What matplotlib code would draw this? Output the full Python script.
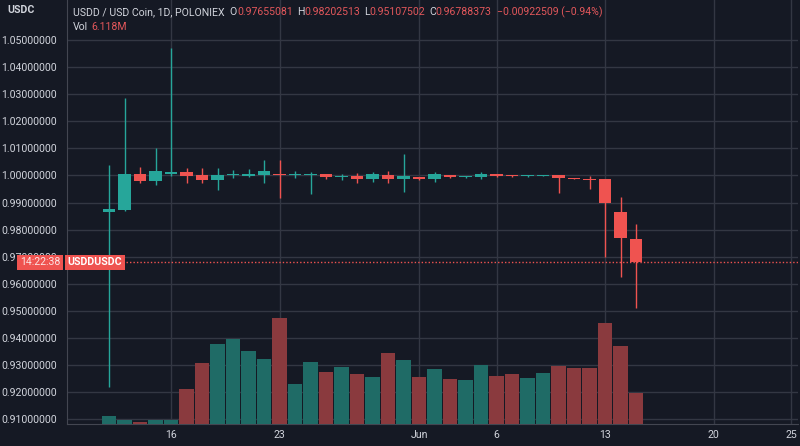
import matplotlib
matplotlib.use('Agg')
import matplotlib.pyplot as plt
import matplotlib.dates as mdates
import matplotlib.transforms as mtrans
import numpy as np

# daily candles, USDD / USD Coin on Poloniex
dates = np.arange('2022-05-12', '2022-06-16', dtype='datetime64[D]')
opens = [0.9865, 0.9872, 1.0005, 0.9979, 1.0005, 1.0013, 1.0001, 0.9983, 1.0003, 0.9998,
         1.0001, 1.0005, 1.0001, 1.0003, 1.0005, 0.9993, 0.9998, 0.9987, 1.0001, 0.9987,
         0.9994, 0.9987, 1.0001, 0.9994, 0.9994, 1.0005, 0.9999, 0.9997, 0.9999, 1.0002,
         0.9990, 0.9987, 0.9987, 0.9865, 0.97655081]
highs = [1.0038, 1.0286, 1.0031, 1.0101, 1.0470, 1.0027, 1.0027, 1.0027, 1.0020, 1.0024,
         1.0057, 1.0057, 1.0016, 1.0013, 1.0006, 1.0005, 1.0009, 1.0013, 1.0016, 1.0079,
         0.9996, 1.0013, 1.0003, 0.9999, 1.0013, 1.0006, 1.0000, 1.0000, 1.0003, 1.0003,
         0.9991, 0.9998, 0.9987, 0.9920, 0.98202513]
lows = [0.9218, 0.9868, 0.9972, 0.9965, 0.9998, 0.9972, 0.9972, 0.9946, 0.9990, 0.9994,
        0.9972, 0.9917, 0.9990, 0.9931, 0.9987, 0.9983, 0.9972, 0.9976, 0.9972, 0.9939,
        0.9983, 0.9976, 0.9992, 0.9992, 0.9987, 0.9996, 0.9996, 0.9996, 0.9998, 0.9935,
        0.9986, 0.9950, 0.9699, 0.9625, 0.95107502]
closes = [0.9876, 1.0005, 0.9979, 1.0016, 1.0013, 0.9998, 0.9983, 1.0001, 1.0006, 1.0005,
          1.0016, 1.0001, 1.0005, 1.0005, 0.9994, 0.9996, 0.9987, 1.0005, 0.9987, 0.9998,
          0.9987, 1.0005, 0.9994, 0.9998, 1.0005, 0.9998, 0.9997, 0.9999, 1.0002, 0.9990,
          0.9987, 0.9983, 0.9898, 0.9769, 0.96788373]
volumes = [1.6, 0.8, 0.4, 0.8, 0.8, 6.9, 12.0, 15.8, 16.8, 14.4, 12.8, 20.9, 7.9, 12.2,
           10.3, 11.2, 9.9, 9.3, 14.0, 12.6, 9.3, 10.8, 8.9, 8.7, 11.6, 9.5, 9.9, 9.1,
           10.1, 11.4, 11.0, 11.0, 19.9, 15.4, 6.118]  # millions

tick_dates = ['2022-05-16', '2022-05-23', '2022-06-01', '2022-06-06', '2022-06-13',
              '2022-06-20', '2022-06-25']
tick_labels = ['16', '23', 'Jun', '6', '13', '20', '25']
price_ticks = [0.91, 0.92, 0.93, 0.94, 0.95, 0.96, 0.97, 0.98, 0.99, 1.00,
               1.01, 1.02, 1.03, 1.04, 1.05]

BG = '#151924'
GRID = '#333743'
TXT = '#d1d4dc'
UP = '#26a69a'
DOWN = '#ef5350'
UP_VOL = '#1f6b66'
DOWN_VOL = '#8a3a3e'
VAL = '#e2575b'

plt.rcParams['font.family'] = ['Roboto', 'DejaVu Sans']

fig = plt.figure(figsize=(8, 4.46), dpi=100, facecolor=BG)
ax = fig.add_axes([67/800, 22/446, 731/800, 424/446], facecolor=BG)

x = mdates.date2num(dates.astype('datetime64[ms]').astype(object))
up = [c >= o for o, c in zip(opens, closes)]
cols = [UP if u else DOWN for u in up]

# candles
ax.vlines(x, lows, highs, colors=cols, lw=1, zorder=3)
heights = [max(abs(c - o), 0.0004) for o, c in zip(opens, closes)]
bottoms = [min(o, c) for o, c in zip(opens, closes)]
ax.bar(x, heights, bottom=bottoms, width=0.78, color=cols, zorder=4)

# last price line
ax.axhline(closes[-1], color=DOWN, lw=1, linestyle=(0, (1, 1.5)), zorder=2)

x0 = x[0]
ax.set_xlim(x0 - 2.71, x0 + 44.45)
ax.set_ylim(0.9082, 1.0648)

tx = [mdates.datestr2num(d) for d in tick_dates]
ax.set_xticks(tx)
ax.set_xticklabels(tick_labels)
ax.set_yticks(price_ticks)
ax.set_yticklabels(['%.8f' % p for p in price_ticks])
ax.tick_params(axis='both', length=0, colors=TXT, labelsize=7.6)
ax.tick_params(axis='y', pad=7)
ax.tick_params(axis='x', pad=4)
ax.grid(True, color=GRID, lw=1)
ax.set_axisbelow(True)
for side in ['top', 'right']:
    ax.spines[side].set_visible(False)
for side in ['left', 'bottom']:
    ax.spines[side].set_color('#434651')

# volume pane on its own scale, over the grid
ax2 = ax.twinx()
ax2.bar(x, volumes, width=0.93, color=[UP_VOL if u else DOWN_VOL for u in up])
ax2.set_ylim(0, 83.7)
ax2.set_yticks([])
for s in ax2.spines.values():
    s.set_visible(False)

# countdown and symbol label on the last price
tr = mtrans.blended_transform_factory(fig.transFigure, ax.transData)
fig.text(40/800, closes[-1], '14:22:38', transform=tr, ha='center', va='center',
         fontsize=7.6, color='#fbe3e3', zorder=10,
         bbox=dict(boxstyle='square,pad=0.25', fc=DOWN, ec='none'))
fig.text(95/800, closes[-1], 'USDDUSDC', transform=tr, ha='center', va='center',
         fontsize=7.6, color='white', fontweight='bold', zorder=10,
         bbox=dict(boxstyle='square,pad=0.25', fc=DOWN, ec='none'))

fig.text(7/800, 1 - 10/446, 'USDC', fontsize=7.6, color=TXT, fontweight='bold',
         va='center', ha='left')

renderer = fig.canvas.get_renderer()


def put_row(px, py, parts):
    for s, c, gap in parts:
        t = fig.text(px/800, 1 - py/446, s, color=c, fontsize=7.6, va='center', ha='left')
        bb = t.get_window_extent(renderer)
        px = bb.x1 + gap


put_row(73, 12, [('USDD / USD Coin, 1D, POLONIEX', TXT, 5),
                 ('O', TXT, 0), ('%.8f' % opens[-1], VAL, 4),
                 ('H', TXT, 0), ('%.8f' % highs[-1], VAL, 4),
                 ('L', TXT, 0), ('%.8f' % lows[-1], VAL, 4),
                 ('C', TXT, 0), ('%.8f' % closes[-1], VAL, 5),
                 ('\u22120.00922509 (\u22120.94%)', VAL, 0)])
put_row(73, 27, [('Vol', TXT, 3), ('6.118M', VAL, 0)])

fig.savefig('out.png', dpi=100, facecolor=BG)
